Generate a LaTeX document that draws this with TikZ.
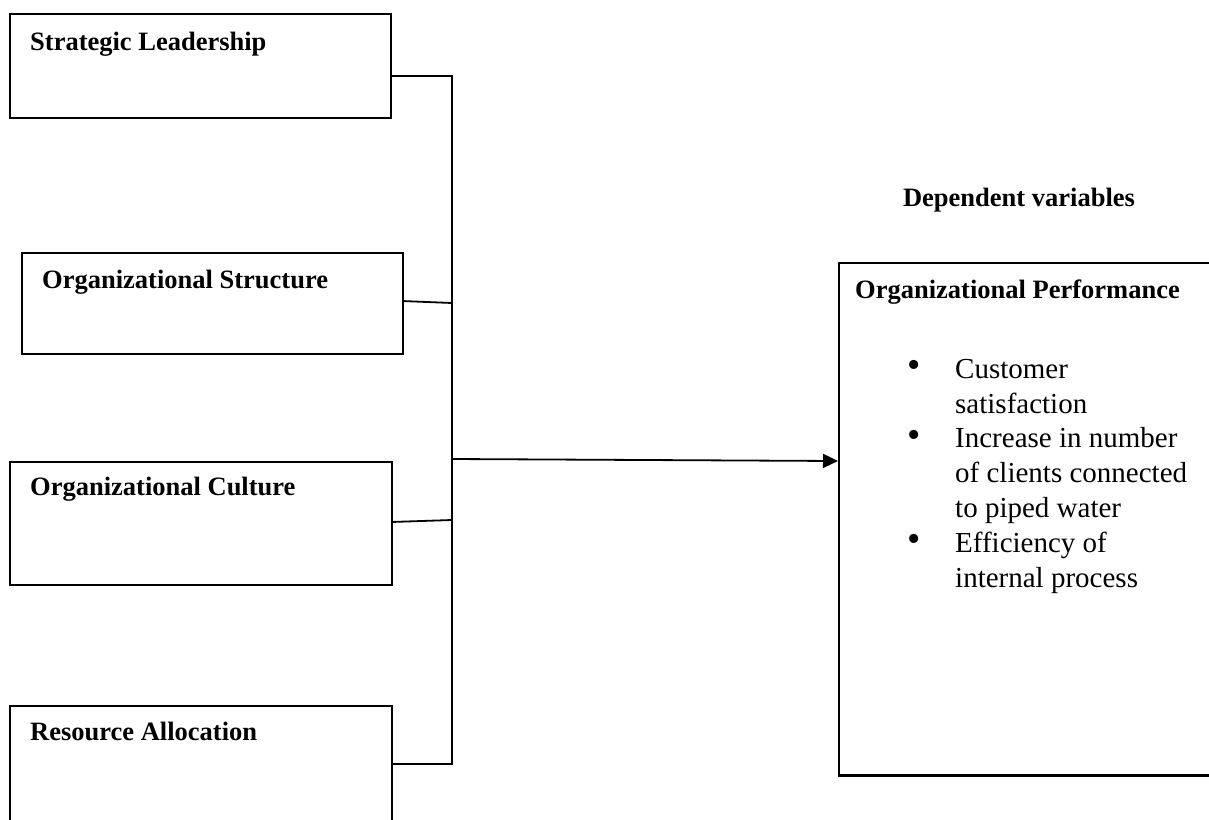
\documentclass[tikz,border=0pt]{standalone}
\usepackage{fontspec}
\setmainfont{Liberation Serif}
\usetikzlibrary{arrows.meta}
\begin{document}
\begin{tikzpicture}[x=1pt,y=-1pt,
  ivbox/.style={draw,line width=1.8pt,minimum width=381pt,anchor=north west,inner sep=0pt},
  lbl/.style={anchor=base west,inner sep=0pt,font=\fontsize{26.5}{32}\selectfont\bfseries},
  body/.style={anchor=base west,inner sep=0pt,align=left,font=\fontsize{29}{34.8}\selectfont},
  conn/.style={line width=1.8pt},
  bul/.style={anchor=base,inner sep=0pt,font=\fontsize{38}{40}\selectfont}]
\useasboundingbox (0,0) rectangle (1209,819);
\clip (0,0) rectangle (1209,819);
% independent variable boxes
\node[ivbox,minimum height=104pt] (b1) at (9,13) {};
\node[ivbox,minimum height=101pt] (b2) at (21,252) {};
\node[ivbox,minimum width=382pt,minimum height=123pt] (b3) at (9,461) {};
\node[ivbox,minimum width=382pt,minimum height=130pt] (b4) at (9,705) {};
\node[lbl] (t1) at (30,50) {Strategic Leadership};
\node[lbl] (t2) at (42,288) {Organizational Structure};
\node[lbl] (t3) at (30,495) {Organizational Culture};
\node[lbl] (t4) at (30,740) {Resource Allocation};
% dependent box
\node[draw,line width=1.8pt,anchor=north west,minimum width=380pt,minimum height=512pt,inner sep=0pt] (dv) at (838,262) {};
\draw[line width=2.6pt] (dv.south west) -- (dv.south east);
\node[lbl,anchor=base] (dvh) at (1019,206) {Dependent variables};
\node[lbl] (dvt) at (855,298) {Organizational Performance};
\node[bul] (u1) at (914,377) {\textbullet};
\node[bul] (u2) at (914,447) {\textbullet};
\node[bul] (u3) at (914,551) {\textbullet};
% multi-line nodes: base anchor is the last line's baseline
\node[body] (i1) at (955,413) {Customer\\satisfaction};
\node[body] (i2) at (955,517) {Increase in number\\of clients connected\\to piped water};
\node[body] (i3) at (955,587) {Efficiency of\\internal process};
% connectors
\coordinate (j1) at (452,76);
\coordinate (j2) at (452,303);
\coordinate (j3) at (452,520);
\coordinate (j4) at (452,764);
\coordinate (jm) at (452,459);
\coordinate (s2) at (402,301);
\coordinate (s3) at (391,522);
\draw[conn] (b1.east |- j1) -- (j1) -- (j4) -- (b4.east |- j4);
\draw[conn] (s2) -- (j2);
\draw[conn] (s3) -- (j3);
\draw[conn,-{Triangle[length=15pt,width=14pt]}] (jm) -- (dv.west |- 0,461);
\end{tikzpicture}
\end{document}
